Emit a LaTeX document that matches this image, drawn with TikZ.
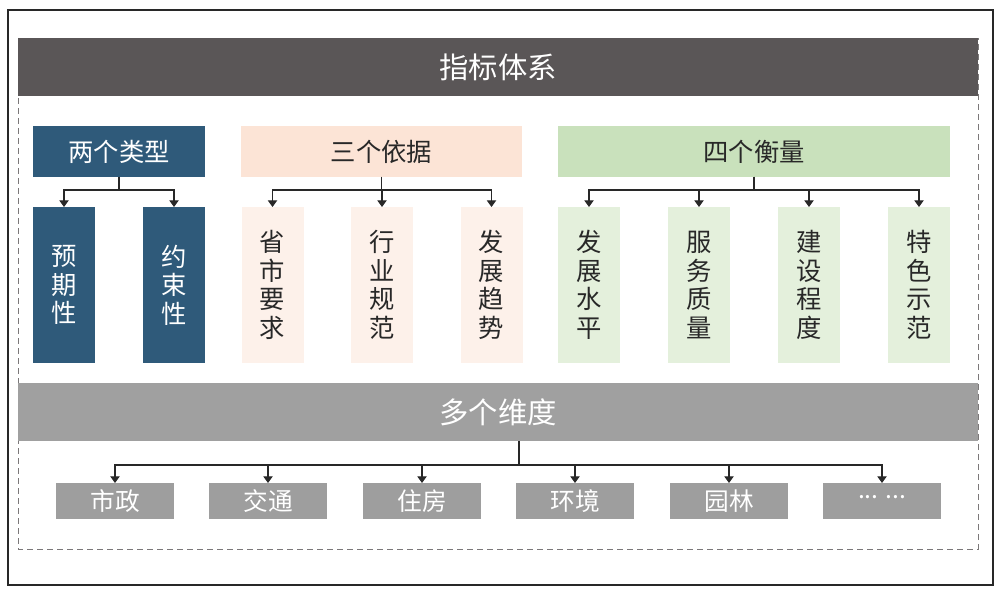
\documentclass[tikz,border=0pt]{standalone}
\usepackage{fontspec}
\usepackage{tikz}
\usetikzlibrary{arrows.meta}
\newfontfamily\cjk{Noto Sans CJK SC}
\definecolor{darkbar}{RGB}{90, 86, 87}
\definecolor{typeblue}{RGB}{47, 90, 122}
\definecolor{peach}{RGB}{252, 228, 214}
\definecolor{peachlight}{RGB}{253, 241, 234}
\definecolor{green}{RGB}{201, 225, 188}
\definecolor{greenlight}{RGB}{228, 240, 220}
\definecolor{midgray}{RGB}{160, 160, 160}
\definecolor{dimgray}{RGB}{158, 158, 158}
\definecolor{ink}{RGB}{40, 40, 40}

\begin{document}
\begin{tikzpicture}[x=0.75pt, y=-0.75pt, font=\cjk,
  box/.style={inner sep=0pt, outer sep=0pt, align=center},
  bar/.style={box, minimum width=720pt, minimum height=43.5pt, text=white,
    font=\cjk\fontsize{22}{26}\selectfont},
  head/.style={box, minimum height=38.25pt, font=\cjk\fontsize{19}{23}\selectfont},
  leaf/.style={box, minimum width=46.5pt, minimum height=117pt,
    font=\cjk\fontsize{19}{21.4}\selectfont},
  dim/.style={box, fill=dimgray, minimum width=88.5pt, minimum height=27pt,
    text=white, font=\cjk\fontsize{18.5}{22}\selectfont},
  arr/.style={-{Triangle[width=7pt, length=5pt]}, line width=0.8pt, draw=ink}]
  \useasboundingbox (0, 0) rectangle (1007, 599);

  % Frames
  \draw [line width=0.8pt, color=ink] (8, 10) rectangle (993, 585);
  \draw [line width=0.6pt, color=darkbar!80, dash pattern=on 4.5pt off 3pt] (18, 38) rectangle (978, 549);

  % Top bar
  \node [bar, fill=darkbar] (sys) at (498, 67) {指标体系};

  % Two types
  \node [head, fill=typeblue, text=white, minimum width=129pt] (two) at (119, 151.5) {两个类型};
  \node [leaf, fill=typeblue, text=white] (yuqi) at (64, 285) {预\\期\\性};
  \node [leaf, fill=typeblue, text=white] (yueshu) at (174, 285) {约\\束\\性};
  \draw [arr] (two.south) -- ++(0, 13) -| (yuqi.north);
  \draw [arr] (two.south) -- ++(0, 13) -| (yueshu.north);

  % Three bases
  \node [head, fill=peach, text=ink, minimum width=210.75pt] (three) at (381.5, 151.5) {三个依据};
  \node [leaf, fill=peachlight, text=ink] (shengshi) at (272.5, 285) {省\\市\\要\\求};
  \node [leaf, fill=peachlight, text=ink] (hangye) at (382, 285) {行\\业\\规\\范};
  \node [leaf, fill=peachlight, text=ink] (qushi) at (491.5, 285) {发\\展\\趋\\势};
  \foreach \c in {shengshi, hangye, qushi}
    \draw [arr] (three.south) -- ++(0, 13) -| (\c.north);

  % Four measures
  \node [head, fill=green, text=ink, minimum width=294pt] (four) at (754, 151.5) {四个衡量};
  \node [leaf, fill=greenlight, text=ink] (shuiping) at (589, 285) {发\\展\\水\\平};
  \node [leaf, fill=greenlight, text=ink] (fuwu) at (699, 285) {服\\务\\质\\量};
  \node [leaf, fill=greenlight, text=ink] (jianshe) at (809, 285) {建\\设\\程\\度};
  \node [leaf, fill=greenlight, text=ink] (tese) at (919, 285) {特\\色\\示\\范};
  \foreach \c in {shuiping, fuwu, jianshe, tese}
    \draw [arr] (four.south) -- ++(0, 13) -| (\c.north);

  % Dimensions
  \node [bar, fill=midgray] (dims) at (498, 412) {多个维度};
  \node [dim] (shizheng) at (115, 501) {市政};
  \node [dim] (jiaotong) at (268, 501) {交通};
  \node [dim] (zhufang) at (422, 501) {住房};
  \node [dim] (huanjing) at (575, 501) {环境};
  \node [dim] (yuanlin) at (729, 501) {园林};
  \node [dim] (more) at (882, 501) {\raisebox{0.3em}{...\;...}};
  \coordinate (stem) at (519, 441);
  \foreach \c in {shizheng, jiaotong, zhufang, huanjing, yuanlin, more}
    \draw [arr] (stem) -- ++(0, 24) -| (\c.north);

\end{tikzpicture}
\end{document}
